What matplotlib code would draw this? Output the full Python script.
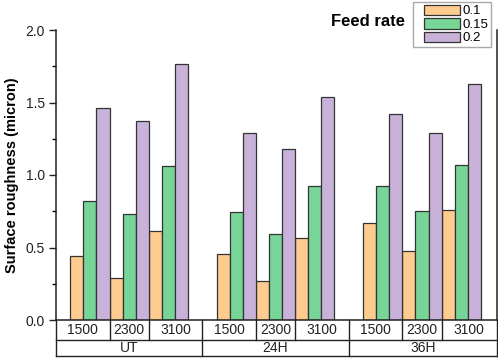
import matplotlib.pyplot as plt
import numpy as np
from matplotlib.container import BarContainer
from matplotlib.legend_handler import HandlerPatch, update_from_first_child
from matplotlib.patches import Rectangle

plt.rcParams["font.family"] = ["Liberation Sans", "DejaVu Sans"]

# Data
groups = ["UT", "24H", "36H"]
speeds = ["1500", "2300", "3100"]
feed_rates = ["0.1", "0.15", "0.2"]

# rows: UT-1500, UT-2300, UT-3100, 24H-1500, ..., 36H-3100
rough_01 = [0.443, 0.292, 0.614, 0.453, 0.269, 0.568, 0.669, 0.474, 0.759]
rough_015 = [0.820, 0.731, 1.062, 0.743, 0.591, 0.924, 0.926, 0.750, 1.067]
rough_02 = [1.460, 1.370, 1.763, 1.290, 1.177, 1.538, 1.420, 1.292, 1.630]

colors = ["#FFCC90", "#78D598", "#C9B2DA"]

fig = plt.figure(figsize=(4.98, 3.59), dpi=100)
ax = fig.add_axes([56 / 498, 1 - 320 / 359, 441 / 498, 290 / 359])

group_step = 3.75
x = np.array([g * group_step + s for g in range(len(groups)) for s in range(len(speeds))])
w = 1 / 3
for k, (vals, c, lab) in enumerate(zip([rough_01, rough_015, rough_02], colors, feed_rates)):
    ax.bar(x + (k - 1) * w, vals, width=w, color=c, edgecolor="#333333",
           linewidth=0.9, label=lab)

x_left, x_right = -0.87, 2 * group_step + 2 + 0.92
ax.set_xlim(x_left, x_right)
ax.set_ylim(0, 2.0)
ax.set_yticks(np.arange(0, 2.01, 0.5))
ax.set_yticks(np.arange(0.25, 2.0, 0.5), minor=True)
ax.yaxis.set_major_formatter(plt.FormatStrFormatter("%.1f"))
ax.tick_params(axis="y", direction="out", length=5, width=1, labelsize=10,
               colors="#222222", pad=3)
ax.tick_params(axis="y", which="minor", direction="out", length=3, width=1)
ax.set_xticks([])
ax.spines["top"].set_visible(False)
for sp in ["left", "right", "bottom"]:
    ax.spines[sp].set_linewidth(1.1)
    ax.spines[sp].set_color("#222222")
ax.set_ylabel("Surface roughness (micron)", fontsize=10.5, fontweight="bold", labelpad=5)

# table under the axis
trans = ax.get_xaxis_transform()
row1, row2 = -0.069, -0.124
lk = dict(color="#222222", lw=1.0, transform=trans, clip_on=False)
ax.plot([x_left, x_right], [row1, row1], **lk)
ax.plot([x_left, x_right], [row2, row2], **lk)
ax.plot([x_left, x_left], [0, row2], **lk)
ax.plot([x_right, x_right], [0, row2], **lk)
for g in range(len(groups)):
    base = g * group_step
    lo = x_left if g == 0 else base - (group_step - 2) / 2
    hi = x_right if g == len(groups) - 1 else base + 2 + (group_step - 2) / 2
    if g > 0:
        ax.plot([lo, lo], [0, row2], **lk)
    edges = [lo, base + 0.5, base + 1.5, hi]
    for e in edges[1:3]:
        ax.plot([e, e], [0, row1], **lk)
    for s, sp in enumerate(speeds):
        ax.text((edges[s] + edges[s + 1]) / 2, row1 / 2, sp, transform=trans,
                ha="center", va="center", fontsize=10, color="#222222")
    ax.text((lo + hi) / 2, (row1 + row2) / 2, groups[g], transform=trans,
            ha="center", va="center", fontsize=10, color="#222222")


# legend, with the swatches inset a little from the frame
def inset_patch(legend, orig_handle, xdescent, ydescent, width, height, fontsize):
    off = 6.0
    return Rectangle((-xdescent + off, -ydescent), width - off, height)


fig.legend(loc="upper right", bbox_to_anchor=(491 / 498, 1 - 2 / 359), fontsize=9.5,
           frameon=True, fancybox=False, edgecolor="#AAAAAA", framealpha=1,
           handlelength=3.35, handleheight=0.85, labelspacing=0.05, handletextpad=0.2,
           borderpad=0.2, borderaxespad=0,
           handler_map={BarContainer: HandlerPatch(patch_func=inset_patch,
                                                   update_func=update_from_first_child)})
fig.text(368 / 498, 1 - 21 / 359, "Feed rate", fontsize=12, fontweight="bold",
         ha="center", va="center")

fig.savefig("out.png", dpi=100)
